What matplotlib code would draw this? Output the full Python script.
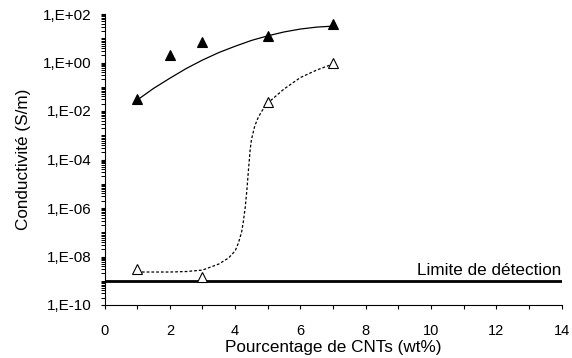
import numpy as np
import matplotlib
matplotlib.use("Agg")
import matplotlib.pyplot as plt
from matplotlib.ticker import FixedLocator, MultipleLocator, LogLocator, FuncFormatter, NullFormatter

plt.rcParams['font.family'] = ['Liberation Sans', 'DejaVu Sans']

# ---- data ----
cnt_filled = [1, 2, 3, 5, 7]
sigma_filled = [0.030, 2.1, 6.7, 12.3, 38.0]

cnt_open = [1, 3, 5, 7]
sigma_open = [3.2e-9, 1.4e-9, 0.024, 1.0]

# solid trend curve, log10 values
trend_x = [1, 1.5, 2, 2.5, 3, 3.5, 4, 4.5, 5, 5.5, 6, 6.5, 7]
trend_log = [-1.55, -1.07, -0.65, -0.25, 0.10, 0.41, 0.67, 0.91, 1.10, 1.26, 1.38, 1.46, 1.50]

# dotted percolation curve, log10 values
perc_x = [1.0, 1.5, 2.0, 2.5, 3.0, 3.5, 3.8, 4.0, 4.1, 4.2, 4.25, 4.31, 4.36,
          4.41, 4.46, 4.5, 4.6, 4.7, 4.8, 4.9, 5.0, 5.5, 6.0, 6.5, 7.0]
perc_log = [-8.64, -8.64, -8.64, -8.62, -8.56, -8.31, -8.06, -7.77, -7.45, -6.98,
            -6.58, -5.96, -5.26, -4.40, -3.60, -3.18, -2.62, -2.29, -2.04, -1.84,
            -1.67, -1.09, -0.62, -0.31, -0.06]

detection_limit = 1e-9
detection_label = "Limite de détection"

x_ticks = [0, 2, 4, 6, 8, 10, 12, 14]
y_exponents = [-10, -8, -6, -4, -2, 0, 2]

xlabel = "Pourcentage de CNTs (wt%)"
ylabel = "Conductivité (S/m)"

# ---- figure ----
fig = plt.figure(figsize=(5.72, 3.58), dpi=100)
ax = fig.add_axes([104.5 / 572, (358 - 305) / 358, 457.2 / 572, 291 / 358])

ax.set_yscale('log')
ax.set_xlim(0, 14)
ax.set_ylim(10.0 ** y_exponents[0], 10.0 ** y_exponents[-1])

ax.plot(trend_x, 10.0 ** np.array(trend_log), color='black', lw=0.9, zorder=2)
ax.plot(perc_x, 10.0 ** np.array(perc_log), color='black', lw=0.9,
        linestyle=(0, (2.2, 1.6)), zorder=2)
ax.plot(cnt_filled, sigma_filled, linestyle='none', marker='^', ms=6.5,
        mfc='black', mec='black', mew=0.8, zorder=3)
ax.plot(cnt_open, sigma_open, linestyle='none', marker='^', ms=6.5,
        mfc='white', mec='black', mew=0.8, zorder=3)

ax.axhline(detection_limit, color='black', lw=2.0, zorder=2)
ax.annotate(detection_label, xy=(14, detection_limit), xytext=(0, 4.2),
            textcoords='offset points', ha='right', va='baseline', fontsize=12.3)

# spines
for s in ('top', 'right'):
    ax.spines[s].set_visible(False)
for s in ('left', 'bottom'):
    ax.spines[s].set_linewidth(0.8)

# x axis ticks
ax.xaxis.set_major_locator(FixedLocator(x_ticks))
ax.xaxis.set_minor_locator(MultipleLocator(1))
ax.tick_params(axis='x', which='major', direction='out', length=3.0, width=0.8,
               pad=11.0, labelsize=10.5)
ax.tick_params(axis='x', which='minor', direction='out', length=3.0, width=0.8)

# y axis ticks
ax.yaxis.set_major_locator(FixedLocator([10.0 ** e for e in y_exponents]))
ax.yaxis.set_minor_locator(LogLocator(base=10, subs=np.arange(1, 10), numticks=200))
ax.yaxis.set_major_formatter(FuncFormatter(lambda v, p: "1,E%+03d" % int(round(np.log10(v)))))
ax.yaxis.set_minor_formatter(NullFormatter())
ax.tick_params(axis='y', which='major', direction='out', length=3.2, width=0.8,
               pad=6.0, labelsize=11)
ax.tick_params(axis='y', which='minor', direction='out', length=3.0, width=0.7)

ax.set_xlabel(xlabel, fontsize=12.3, va='top')
ax.xaxis.set_label_coords(0.5, -0.12)
ax.set_ylabel(ylabel, fontsize=12.3, va='center', ha='center')
ax.yaxis.set_label_coords(-0.177, 0.5)

fig.savefig("out.png", dpi=100)
